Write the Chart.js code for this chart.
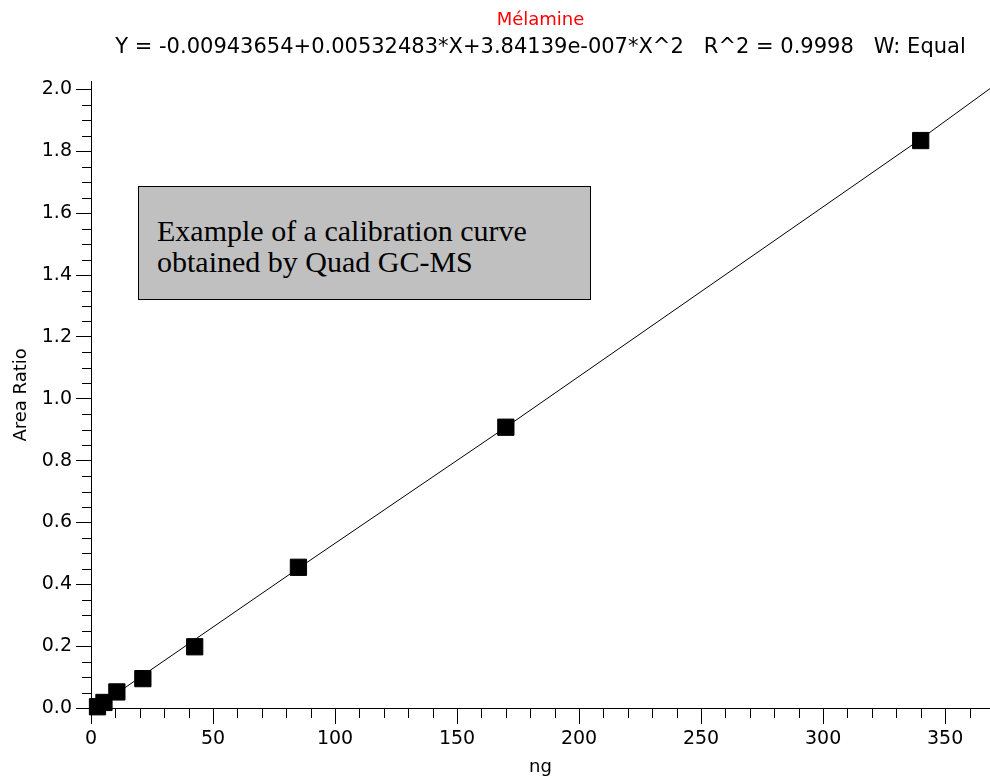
<!DOCTYPE html>
<html lang="fr">
<head>
<meta charset="UTF-8">
<title>Mélamine – calibration curve</title>
<script src="https://cdn.jsdelivr.net/npm/chart.js"></script>
<style>
  body { margin: 0; background: #fff; }
  #wrap { position: relative; width: 990px; height: 781px; }
  #note {
    position: absolute; left: 138px; top: 186px; width: 453px; height: 114px;
    box-sizing: border-box; background: #c0c0c0; border: 1px solid #000;
    font-family: "Liberation Serif", "Times New Roman", serif;
    font-size: 30px; line-height: 31px; color: #000;
    padding: 28px 0 0 18px;
  }
</style>
</head>
<body>
<div id="wrap">
  <canvas id="calChart" width="990" height="781"></canvas>
  <div id="note">Example of a calibration curve<br>obtained by Quad GC-MS</div>
</div>
<script>
// calibration standards (ng) and measured area ratios
const amounts = [2.66, 5.31, 10.6, 21.25, 42.5, 85, 170, 340];
const areaRatios = [0.004, 0.018, 0.052, 0.095, 0.198, 0.455, 0.908, 1.835];

// fitted curve
const fitX = [0, 85, 170, 340, 368.4];
const fitY = [-0.010, 0.452, 0.908, 1.840, 2.003];

const titleText = 'Mélamine';
const equationText = 'Y = -0.00943654+0.00532483*X+3.84139e-007*X^2   R^2 = 0.9998   W: Equal';

const X_MAX = 368.4, X_MAJOR = 50, X_MINOR = 10;
const Y_MAX = 2.025, Y_MAJOR = 0.2, Y_MINOR = 0.05;

const axisFont = { family: 'DejaVu Sans', size: 19 };

// small ticks between the labelled ones
const minorTicks = {
  id: 'minorTicks',
  beforeDatasetsDraw(chart) {
    const { ctx, scales: { x, y } } = chart;
    ctx.save();
    ctx.strokeStyle = '#000';
    ctx.lineWidth = 1;
    ctx.beginPath();
    for (let v = X_MINOR; v <= X_MAX; v += X_MINOR) {
      if (Math.abs(v / X_MAJOR - Math.round(v / X_MAJOR)) < 1e-6) continue;
      const px = Math.round(x.getPixelForValue(v)) + 0.5;
      ctx.moveTo(px, y.bottom);
      ctx.lineTo(px, y.bottom + 10);
    }
    for (let v = Y_MINOR; v <= Y_MAX; v += Y_MINOR) {
      if (Math.abs(v / Y_MAJOR - Math.round(v / Y_MAJOR)) < 1e-6) continue;
      const py = Math.round(y.getPixelForValue(v)) + 0.5;
      ctx.moveTo(x.left, py);
      ctx.lineTo(x.left - 9, py);
    }
    ctx.stroke();
    ctx.restore();
  }
};

new Chart(document.getElementById('calChart'), {
  type: 'scatter',
  data: {
    datasets: [{
      label: 'Standards',
      data: amounts.map((a, i) => ({ x: a, y: areaRatios[i] })),
      pointStyle: 'rect',
      pointRadius: 11.5,
      backgroundColor: '#000',
      borderColor: '#000',
      borderWidth: 1,
      showLine: false,
      clip: false,
      order: 0
    }, {
      label: 'Fit',
      data: fitX.map((a, i) => ({ x: a, y: fitY[i] })),
      showLine: true,
      pointRadius: 0,
      borderColor: '#000',
      borderWidth: 1,
      order: 1
    }]
  },
  options: {
    responsive: false,
    animation: false,
    layout: { autoPadding: false, padding: 0 },
    plugins: {
      legend: { display: false },
      tooltip: { enabled: false },
      title: {
        display: true, text: titleText, color: '#ff0000', fullSize: false,
        font: { family: 'DejaVu Sans', size: 18, weight: 'normal' },
        padding: { top: 10, bottom: 0 }
      },
      subtitle: {
        display: true, text: equationText, color: '#000', fullSize: false,
        font: { family: 'DejaVu Sans', size: 21 },
        padding: { top: 3, bottom: 22 }
      }
    },
    scales: {
      x: {
        type: 'linear', min: 0, max: X_MAX,
        ticks: { stepSize: X_MAJOR, includeBounds: false, color: '#000', font: axisFont, padding: 4, maxRotation: 0 },
        grid: { drawOnChartArea: false, drawTicks: true, tickLength: 16, tickColor: '#000', tickWidth: 1 },
        border: { display: true, color: '#000', width: 1 },
        title: { display: true, text: 'ng', color: '#000', font: { family: 'DejaVu Sans', size: 18 }, padding: { top: 0, bottom: 3 } },
        afterFit(scale) { scale.height = 73; }
      },
      y: {
        type: 'linear', min: 0, max: Y_MAX,
        ticks: { stepSize: Y_MAJOR, includeBounds: false, color: '#000', font: axisFont, padding: 4,
                 callback: v => v.toFixed(1) },
        grid: { drawOnChartArea: false, drawTicks: true, tickLength: 15, tickColor: '#000', tickWidth: 1 },
        border: { display: true, color: '#000', width: 1 },
        title: { display: true, text: 'Area Ratio', color: '#000', font: { family: 'DejaVu Sans', size: 18 }, padding: { top: 11, bottom: 4 } },
        afterFit(scale) { scale.width = 91; }
      }
    }
  },
  plugins: [minorTicks]
});
</script>
</body>
</html>
